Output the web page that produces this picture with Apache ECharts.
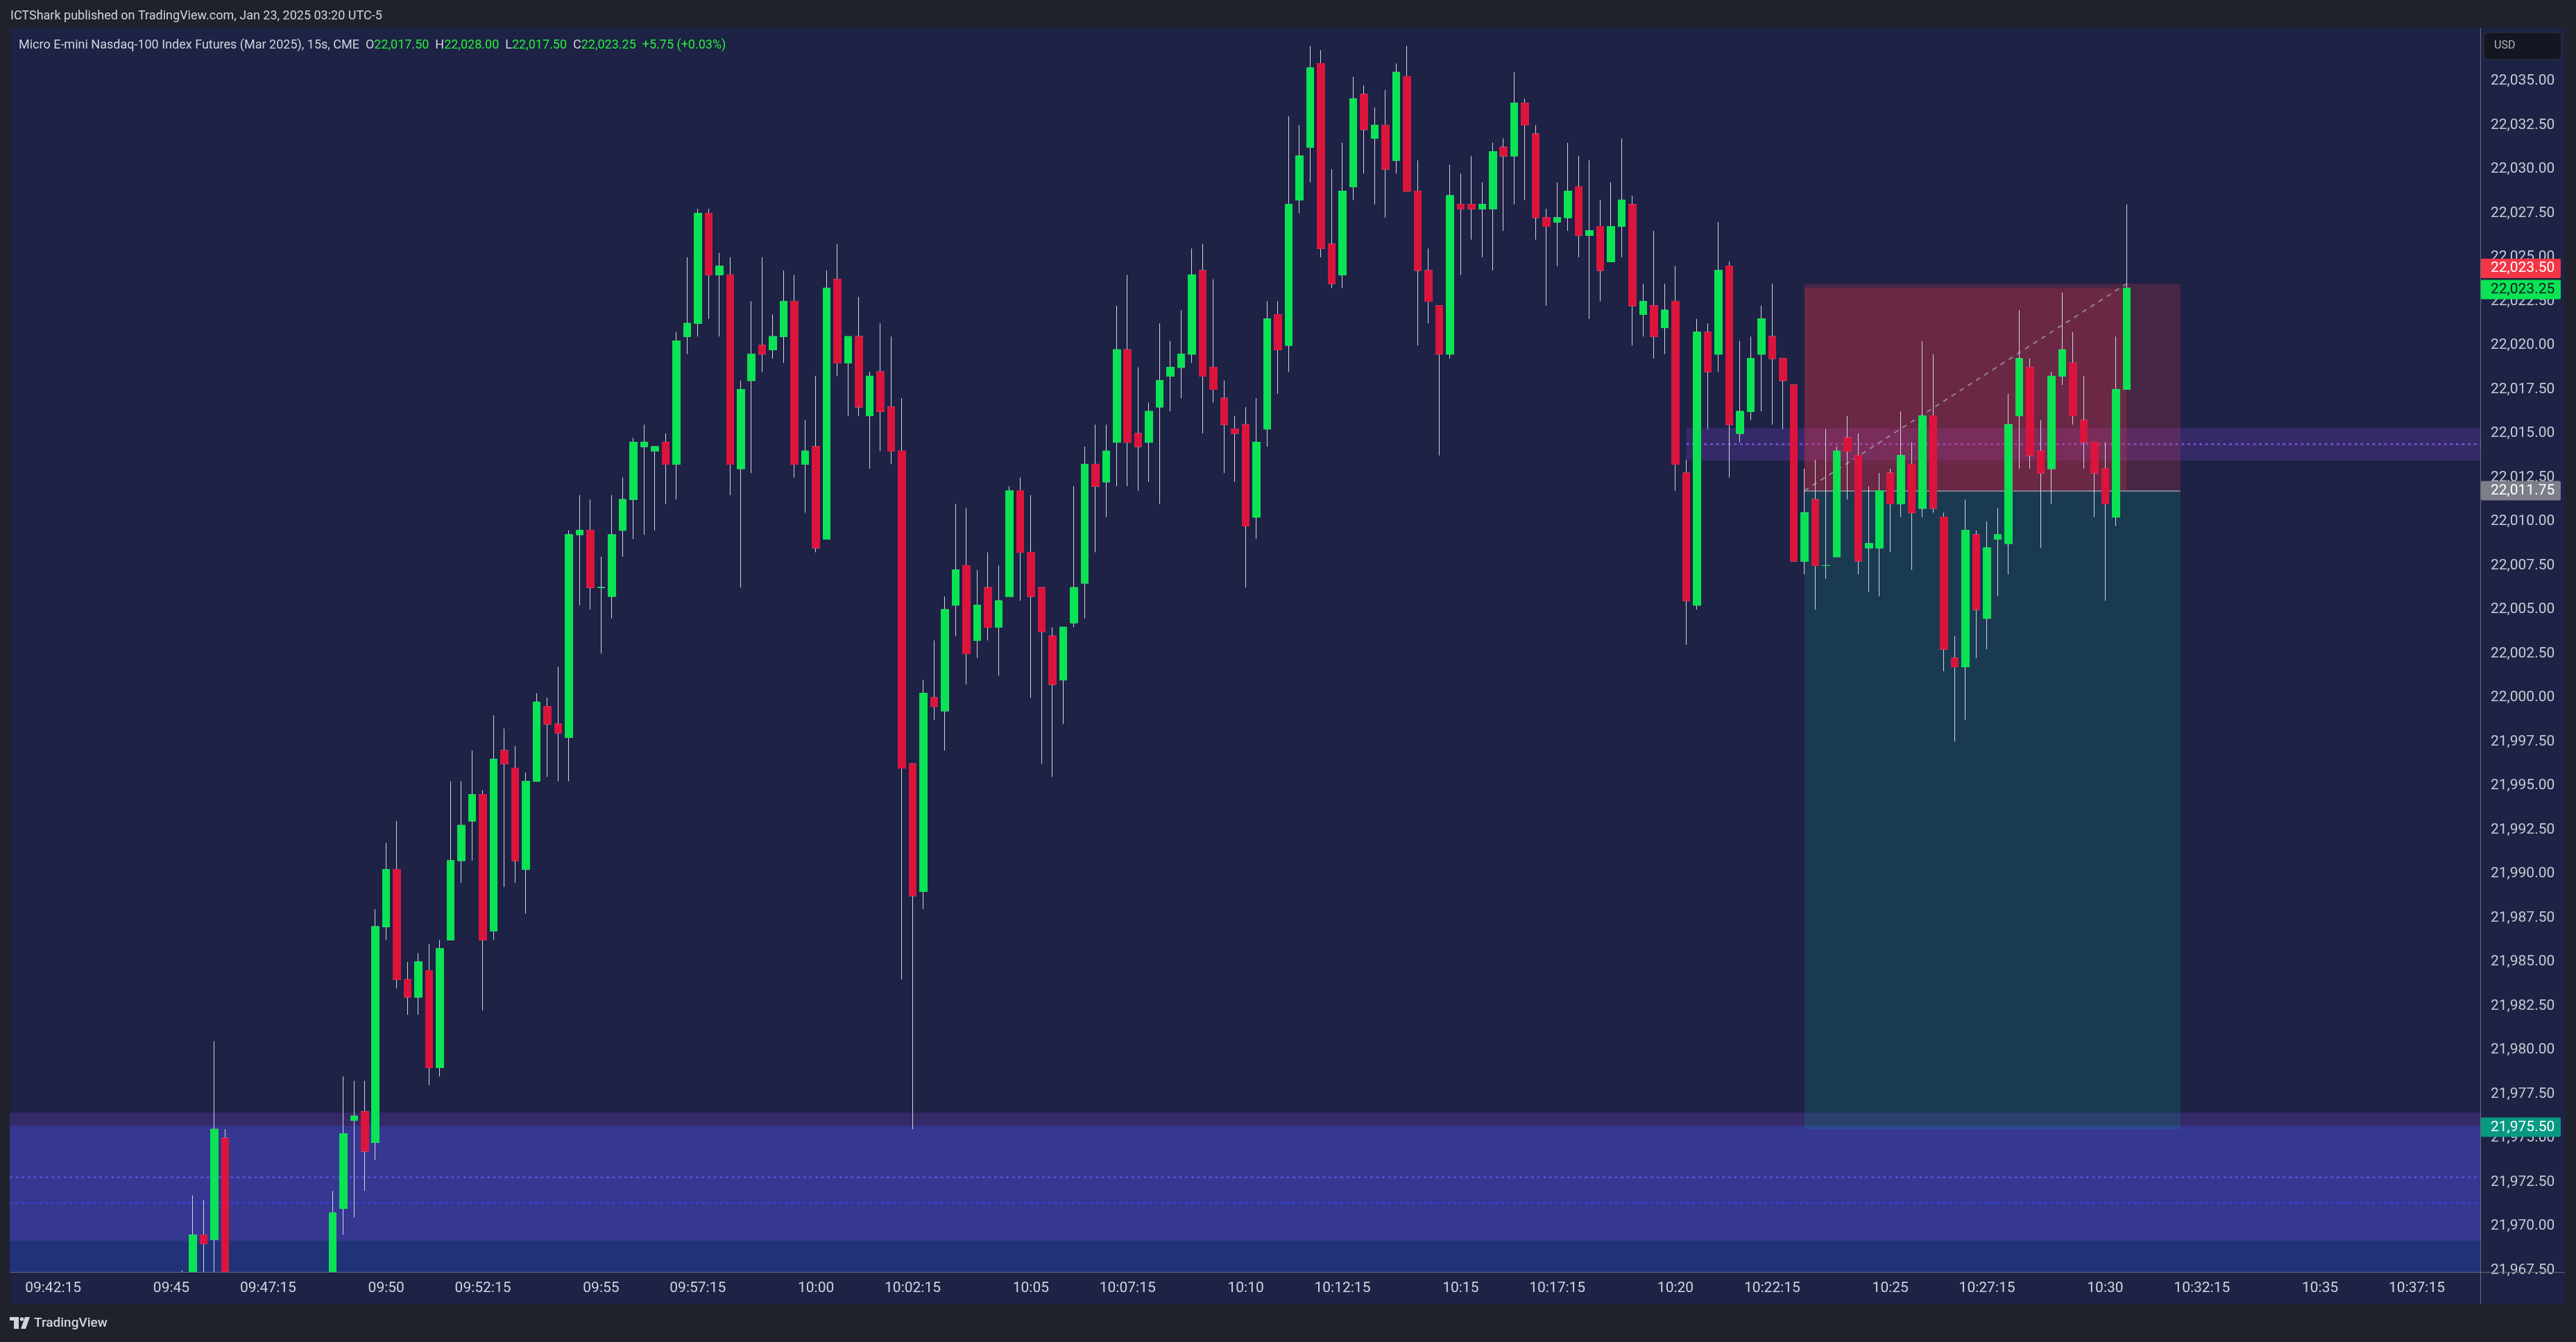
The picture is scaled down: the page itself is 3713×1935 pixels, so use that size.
<!DOCTYPE html>
<html><head><meta charset="utf-8">
<script src="https://cdn.jsdelivr.net/npm/echarts@6/dist/echarts.min.js"></script>
<style>html,body{margin:0;padding:0;background:#1f222b;overflow:hidden}#c{width:3713px;height:1935px}</style>
</head><body><div id="c"></div>
<script>
// ---------- DATA ----------
const times = [
'09:45:15','09:45:30','09:45:45','09:46:00','09:46:15',
'09:48:45',
'09:49:00','09:49:15','09:49:30','09:49:45','09:50:00','09:50:15','09:50:30','09:50:45',
'09:51:00','09:51:15','09:51:30','09:51:45','09:52:00','09:52:15','09:52:30','09:52:45',
'09:53:00','09:53:15','09:53:30','09:53:45','09:54:00','09:54:15','09:54:30','09:54:45',
'09:55:00','09:55:15','09:55:30','09:55:45','09:56:00','09:56:15','09:56:30','09:56:45',
'09:57:00','09:57:15','09:57:30','09:57:45','09:58:00','09:58:15','09:58:30','09:58:45',
'09:59:00','09:59:15','09:59:30','09:59:45','10:00:00','10:00:15','10:00:30','10:00:45',
'10:01:00','10:01:15','10:01:30','10:01:45','10:02:00','10:02:15','10:02:30','10:02:45',
'10:03:00','10:03:15','10:03:30','10:03:45','10:04:00','10:04:15','10:04:30','10:04:45',
'10:05:00','10:05:15','10:05:30','10:05:45','10:06:00','10:06:15','10:06:30','10:06:45',
'10:07:00','10:07:15','10:07:30','10:07:45','10:08:00','10:08:15','10:08:30','10:08:45',
'10:09:00','10:09:15','10:09:30','10:09:45','10:10:00','10:10:15','10:10:30','10:10:45',
'10:11:00','10:11:15','10:11:30','10:11:45','10:12:00','10:12:15','10:12:30','10:12:45',
'10:13:00','10:13:15','10:13:30','10:13:45','10:14:00','10:14:15','10:14:30','10:14:45',
'10:15:00','10:15:15','10:15:30','10:15:45','10:16:00','10:16:15','10:16:30','10:16:45',
'10:17:00','10:17:15','10:17:30','10:17:45','10:18:00','10:18:15','10:18:30','10:18:45',
'10:19:00','10:19:15','10:19:30','10:19:45','10:20:00','10:20:15','10:20:30','10:20:45',
'10:21:00','10:21:15','10:21:30','10:21:45','10:22:00','10:22:15','10:22:30','10:22:45',
'10:23:00','10:23:15','10:23:30','10:23:45','10:24:00','10:24:15','10:24:30','10:24:45',
'10:25:00','10:25:15','10:25:30','10:25:45','10:26:00','10:26:15','10:26:30','10:26:45',
'10:27:00','10:27:15','10:27:30','10:27:45','10:28:00','10:28:15','10:28:30','10:28:45',
'10:29:00','10:29:15','10:29:30','10:29:45','10:30:00','10:30:15','10:30:30'
];
const opens = [
21965.5,21966,21969.5,21969.25,21975,
21965,
21971,21976,21976.5,21974.75,21987,21990.25,21984,21983,
21984.5,21979,21986.25,21990.75,21993,21994.5,21986.75,21997,
21996,21990.25,21995.25,21999.5,21998.5,21997.75,22009.25,22009.5,
22006.25,22005.75,22009.5,22011.25,22014.25,22014,22014.5,22013.25,
22020.5,22021.25,22027.5,22024,22024,22013,22018,22020,
22019.75,22020.5,22022.5,22013.25,22014.25,22009,22023.75,22019,
22020.5,22016,22018.5,22016.5,22014,21996.25,21989,22000,
21999.25,22005.25,22007.5,22003.25,22006.25,22004,22005.75,22011.75,
22008.25,22006.25,22003.5,22001,22004.25,22006.5,22013.25,22012.25,
22014.5,22019.75,22015,22014.5,22016.5,22018.25,22018.75,22019.5,
22024.25,22018.75,22017,22015.25,22015.5,22010.25,22015.25,22021.75,
22020,22028.25,22031.25,22036,22025.75,22024,22029,22034.25,
22031.75,22032.5,22030.5,22035.25,22028.75,22024.25,22022.25,22019.5,
22028,22028,22027.75,22027.75,22031.25,22030.75,22033.75,22032,
22027.25,22027,22027.25,22029,22026.25,22026.75,22024.75,22026.75,
22028,22021.75,22022.25,22021,22022.5,22012.75,22005.25,22020.75,
22019.5,22024.5,22015,22016.25,22019.5,22020.5,22019.25,22017.75,
22007.75,22011.25,22007.5,22008,22014.75,22013.75,22008.5,22008.5,
22012.75,22011,22013.25,22010.75,22016,22010.25,22002.25,22001.75,
22009.25,22004.5,22009,22008.75,22016,22018.75,22014,22013,
22018.25,22019,22015.75,22014.5,22013,22010.25,22017.5
];
const highs = [
21967.5,21971.75,21971.5,21980.5,21975.5,
21972,
21978.5,21978.25,21978.25,21988,21991.75,21993,21985,21985.5,
21986,21986.25,21995.25,21995.25,21997,21994.75,21999,21998.25,
21997.25,21995.75,22000.25,22000,22001.75,22009.5,22011.5,22011.25,
22008,22011.5,22012.5,22014.75,22015.5,22014.25,22015,22020.75,
22025,22027.75,22027.75,22025.25,22025,22018,22022.5,22025,
22021.75,22024.25,22024,22015.75,22018.25,22024.25,22025.75,22020.5,
22022.75,22018.5,22021.25,22020.5,22017,21996.25,22001,22003.25,
22005.75,22011,22010.75,22007.25,22008.25,22007.5,22012,22012.5,
22011.5,22006.25,22004,22004,22012,22014.25,22015.5,22015.5,
22022.25,22024,22018.75,22016.75,22021.25,22020.25,22022,22025.5,
22025.75,22023.75,22018,22016,22016.5,22017,22022.5,22022.5,
22033,22032.5,22037,22036.75,22030,22031.5,22035.25,22034.75,
22033.5,22034.5,22036,22037,22030.5,22025.5,22022.25,22030.25,
22029.75,22030.75,22029.25,22031.5,22031.75,22035.5,22034,22032.5,
22027.75,22029.25,22031.5,22030.75,22030.5,22028.25,22029.25,22031.75,
22028.5,22023.5,22026.5,22023.5,22024.5,22013.5,22021.5,22021.25,
22027,22024.75,22020.25,22020.5,22022.25,22023.5,22019.25,22017.75,
22013,22013.5,22015.25,22014.25,22016,22015,22012,22012.75,
22013,22016.25,22014.5,22020.25,22019.5,22010.5,22003.5,22011.25,
22009.5,22010,22010.75,22017.25,22022,22019.25,22015.75,22018.5,
22023,22020.75,22018.25,22014.5,22014.5,22020.5,22028
];
const lows = [
21964,21965,21966,21966.25,21963,
21964,
21969.5,21970.5,21972,21973.75,21986.25,21983.5,21982,21982,
21978,21978.5,21986.25,21989.5,21990.75,21982.25,21986.25,21989.25,
21989.5,21987.75,21995.25,21995.5,21995.25,21995.25,22005.25,22005,
22002.5,22004.5,22008,22009,22009.25,22009.5,22011,22011.25,
22019.5,22020.5,22021.5,22020.5,22011.5,22006.25,22012.75,22018.5,
22019.25,22019,22012.5,22010.5,22008.25,22009,22018.25,22016,
22016,22013,22014,22013.25,21984,21975.5,21988,21998.75,
21997,22003.5,22000.75,22002.25,22003.25,22001.25,22005.75,22005.5,
22000,21996.25,21995.5,21998.5,22004,22004.5,22008.25,22010.25,
22012,22012,22011.75,22012.25,22011,22016.25,22017,22019,
22015,22016.75,22012.75,22012.25,22006.25,22009,22014.25,22017.25,
22018.5,22027.5,22029.25,22025,22023.25,22023.25,22028.25,22029.75,
22028,22027.25,22029.75,22028.75,22020,22021.25,22013.75,22019.25,
22024,22026,22025,22024.25,22026.5,22028,22028.25,22026,
22022.25,22024.5,22026.5,22025,22021.5,22022.5,22024.75,22025,
22020,22020.5,22019.25,22019.5,22011.75,22003,22005,22015.25,
22018.5,22012.5,22014.5,22015.75,22016.25,22015.5,22015.25,22007.75,
22007,22005,22006.75,22008,22011.25,22007,22006,22005.75,
22008.25,22010.25,22007.25,22010.25,22010.5,22001.5,21997.5,21998.75,
22002.25,22002.75,22005.75,22007,22013,22013,22008.5,22011,
22017.75,22015.5,22013,22010.25,22005.5,22009.75,22017.5
];
const closes = [
21966.5,21969.5,21969,21975.5,21964,
21970.75,
21975.25,21976.25,21974.25,21987,21990.25,21984,21983,21985,
21979,21985.75,21990.75,21992.75,21994.5,21986.25,21996.5,21996.25,
21990.75,21995.25,21999.75,21998.5,21998,22009.25,22009.5,22006.25,
22006.25,22009.25,22011.25,22014.5,22014.5,22014.25,22013.25,22020.25,
22021.25,22027.5,22024,22024.5,22013.25,22017.5,22019.5,22019.5,
22020.5,22022.5,22013.25,22014,22008.5,22023.25,22019,22020.5,
22016.5,22018.25,22016.25,22014,21996,21988.75,22000.25,21999.5,
22005,22007.25,22002.5,22005.25,22004,22005.5,22011.75,22008.25,
22005.75,22003.75,22000.75,22004,22006.25,22013.25,22012,22014,
22019.75,22014.5,22014.25,22016.25,22018,22018.75,22019.5,22024,
22018.25,22017.5,22015.5,22015,22009.75,22014.5,22021.5,22019.75,
22028,22030.75,22035.75,22025.5,22023.5,22028.75,22034,22032.25,
22032.5,22030,22035.5,22028.75,22024.25,22022.5,22019.5,22028.5,
22027.75,22027.75,22028,22031,22030.75,22033.75,22032.5,22027.25,
22026.75,22027.25,22028.75,22026.25,22026.5,22024.25,22026.75,22028.25,
22022.25,22022.5,22020.5,22022,22013.25,22005.5,22020.75,22018.5,
22024.25,22015.5,22016.25,22019.25,22021.5,22019.25,22018,22007.75,
22010.5,22007.5,22007.5,22014,22014,22007.75,22008.75,22011.75,
22011,22013.75,22010.5,22016,22010.75,22002.75,22001.75,22009.5,
22005,22008.5,22009.25,22015.5,22019.25,22013.75,22012.75,22018.25,
22019.75,22016,22014.5,22012.75,22011,22017.5,22023.25
];
// axis ticks / labels
const timeTickLabels = ['09:42:15','09:45','09:47:15','09:50','09:52:15','09:55','09:57:15','10:00','10:02:15','10:05','10:07:15','10:10','10:12:15','10:15','10:17:15','10:20','10:22:15','10:25','10:27:15','10:30','10:32:15','10:35','10:37:15'];
const priceTicks = [21967.5,21970,21972.5,21975,21977.5,21980,21982.5,21985,21987.5,21990,21992.5,21995,21997.5,22000,22002.5,22005,22007.5,22010,22012.5,22015,22017.5,22020,22022.5,22025,22027.5,22030,22032.5,22035];
// visible window
const viewTime = ['09:41:14.3','10:38:43.6'];
const viewPrice = [21967.4, 22038.03];
// zones (price from, price to, midline)
const lowerBlueZone = [21966.95, 21975.7, 21971.33];
const lowerPurpleZone = [21969.15, 21976.45, 21972.8];
const upperPurpleZone = [22013.45, 22015.3, 22014.39];
const upperZoneStart = '10:20:15';
// short position tool
const positionTimes = ['10:23:00','10:31:45'];
const positionLevels = {stop: 22023.5, entry: 22011.75, target: 21975.5};

// ---------- HELPERS ----------
const toSec = t => { const p = t.split(':').map(Number); return p[0]*3600 + p[1]*60 + (p[2] || 0); };
const pad = n => String(n).padStart(2,'0');
const fmtTime = v => { const h = Math.floor(v/3600), m = Math.floor((v%3600)/60), s = Math.round(v%60); return pad(h)+':'+pad(m)+(s ? ':'+pad(s) : ''); };
const fmtPrice = v => v.toLocaleString('en-US',{minimumFractionDigits:2, maximumFractionDigits:2});

const UP = '#0ae354', DOWN = '#dc143c', WICK = '#d5d6de';
const NAVY = '#1e2245';
const FONT = 'Roboto, "Noto Sans", sans-serif';
const xMin = toSec(viewTime[0]), xMax = toSec(viewTime[1]);
const n = times.length;
const lastT = toSec(times[n-1]);

const wickData = times.map((t,i) => [toSec(t), opens[i], closes[i], lows[i], highs[i]]);
const bodyData = times.map((t,i) => [toSec(t), opens[i], closes[i], Math.min(opens[i],closes[i]), Math.max(opens[i],closes[i])]);

const chart = echarts.init(document.getElementById('c'), null, {width:3713, height:1935});

const p0 = toSec(positionTimes[0]), p1 = toSec(positionTimes[1]);
const uz0 = toSec(upperZoneStart);

chart.setOption({
  animation: false,
  backgroundColor: NAVY,
  grid: {left: 14, right: 138, top: 40, bottom: 101, containLabel: false, outerBoundsMode: 'none'},
  xAxis: {
    type: 'value', min: xMin, max: xMax, z: 100,
    axisLine: {show: false}, axisTick: {show: false}, splitLine: {show: false},
    axisLabel: {customValues: timeTickLabels.map(toSec), formatter: fmtTime, color: '#d1d4dc', fontSize: 21, fontFamily: FONT, margin: 13}
  },
  yAxis: {
    type: 'value', position: 'right', min: viewPrice[0], max: viewPrice[1],
    axisLine: {show: false}, axisTick: {show: false}, splitLine: {show: false},
    axisLabel: {customValues: priceTicks, formatter: fmtPrice, color: '#c8cbd4', fontSize: 21, fontFamily: FONT, margin: 15, align: 'left'}
  },
  series: [
    { // fair value gap zones
      type: 'line', data: [], silent: true, z: 1,
      markArea: {
        silent: true, z: 1,
        data: [
          [{yAxis: lowerBlueZone[0], itemStyle: {color: 'rgba(41,98,255,0.28)'}}, {yAxis: lowerBlueZone[1]}],
          [{yAxis: lowerPurpleZone[0], itemStyle: {color: 'rgba(145,74,244,0.2)'}}, {yAxis: lowerPurpleZone[1]}],
          [{coord: [uz0, upperPurpleZone[0]], itemStyle: {color: 'rgba(145,74,244,0.2)'}}, {coord: [xMax, upperPurpleZone[1]]}]
        ]
      },
      markLine: {
        silent: true, z: 2, symbol: ['none','none'], label: {show: false},
        data: [
          {yAxis: lowerPurpleZone[2], lineStyle: {color: '#5f4fdc', width: 2.5, type: [4,4.6]}},
          {yAxis: lowerBlueZone[2], lineStyle: {color: '#2d48d6', width: 2.5, type: [4,4.6]}},
          [{coord: [uz0, upperPurpleZone[2]], lineStyle: {color: '#7a52d6', width: 2.5, type: [4,4.6]}}, {coord: [xMax, upperPurpleZone[2]]}]
        ]
      }
    },
    { // position tool
      type: 'line', data: [], silent: true, z: 3,
      markArea: {
        silent: true, z: 3,
        data: [
          [{coord: [p0, positionLevels.entry], itemStyle: {color: 'rgba(8,153,129,0.2)'}}, {coord: [p1, positionLevels.target]}],
          [{coord: [p0, positionLevels.stop], itemStyle: {color: 'rgba(242,54,69,0.19)'}}, {coord: [p1, positionLevels.entry]}],
          [{coord: [p0, closes[n-1]], itemStyle: {color: 'rgba(242,54,69,0.21)'}}, {coord: [lastT, positionLevels.entry]}]
        ]
      },
      markLine: {
        silent: true, z: 4, symbol: ['none','none'], label: {show: false},
        data: [
          [{coord: [p0, positionLevels.entry], lineStyle: {color: '#7c7f8b', width: 2, type: 'solid'}}, {coord: [p1, positionLevels.entry]}],
          [{coord: [p0, positionLevels.entry], lineStyle: {color: 'rgba(160,163,175,0.75)', width: 2, type: [7,7]}}, {coord: [lastT, positionLevels.stop]}]
        ]
      }
    },
    { // wicks
      type: 'candlestick', z: 5, clip: true, barWidth: 11, silent: true,
      encode: {x: 0, y: [1,2,3,4]},
      data: wickData,
      itemStyle: {color: WICK, color0: WICK, borderColor: WICK, borderColor0: WICK, borderColorDoji: WICK, borderWidth: 1}
    },
    { // bodies
      type: 'candlestick', z: 6, clip: true, barWidth: 11, silent: true,
      encode: {x: 0, y: [1,2,3,4]},
      data: bodyData,
      itemStyle: {color: UP, color0: DOWN, borderColor: UP, borderColor0: DOWN, borderColorDoji: UP, borderWidth: 1}
    }
  ]
});

// ---------- CHROME / LABELS ----------
const py = v => chart.convertToPixel({yAxisIndex: 0}, v);
const lastO = opens[n-1], lastH = highs[n-1], lastL = lows[n-1], lastC = closes[n-1];
const chg = lastC - closes[n-2];
const chgTxt = (chg >= 0 ? '+' : '') + chg.toFixed(2) + ' (' + (chg >= 0 ? '+' : '') + (chg / closes[n-2] * 100).toFixed(2) + '%)';

const priceTags = [
  {v: positionLevels.stop, bg: '#f23645', fg: '#ffffff', dy: -22},
  {v: lastC, bg: '#0ae354', fg: '#131722', dy: 2},
  {v: positionLevels.entry, bg: '#7c7e89', fg: '#ffffff', dy: 0},
  {v: positionLevels.target, bg: '#089981', fg: '#ffffff', dy: -3}
];
const g = [];
const OUT = '#1f222b';
// time-axis strip (hides the parts of candles below the price window)
g.push({type: 'rect', shape: {x: 14, y: 1835, width: 3561, height: 46}, style: {fill: NAVY}, z: 50, silent: true});
g.push({type: 'rect', shape: {x: 0, y: 0, width: 3713, height: 40}, style: {fill: OUT}, z: 50, silent: true});
g.push({type: 'rect', shape: {x: 0, y: 0, width: 14, height: 1935}, style: {fill: OUT}, z: 50, silent: true});
g.push({type: 'rect', shape: {x: 0, y: 1881, width: 3713, height: 54}, style: {fill: OUT}, z: 50, silent: true});
g.push({type: 'rect', shape: {x: 3697, y: 0, width: 16, height: 1935}, style: {fill: OUT}, z: 50, silent: true});
g.push({type: 'line', shape: {x1: 3575.5, y1: 40, x2: 3575.5, y2: 1881}, style: {stroke: '#6a6d78', lineWidth: 1}, z: 60, silent: true});
g.push({type: 'line', shape: {x1: 14, y1: 1834.5, x2: 3697, y2: 1834.5}, style: {stroke: '#6a6d78', lineWidth: 1}, z: 60, silent: true});
priceTags.forEach(t => {
  const y = py(t.v) + t.dy;
  g.push({type: 'rect', shape: {x: 3576, y: y - 14, width: 115, height: 28, r: 2}, style: {fill: t.bg}, z: 70, silent: true});
  g.push({type: 'text', x: 3590, y: y, style: {text: fmtPrice(t.v), fill: t.fg, font: '21px ' + FONT, verticalAlign: 'middle', align: 'left'}, z: 71, silent: true});
});
// USD box
g.push({type: 'rect', shape: {x: 3580, y: 47, width: 112, height: 39, r: 7}, style: {fill: '#141722', stroke: '#30343f', lineWidth: 1}, z: 70, silent: true});
g.push({type: 'text', x: 3595, y: 66, style: {text: 'USD', fill: '#b2b5be', font: '16px ' + FONT, verticalAlign: 'middle'}, z: 71, silent: true});
// header lines
g.push({type: 'text', x: 15, y: 23, style: {text: 'ICTShark published on TradingView.com, Jan 23, 2025 03:20 UTC-5', fill: '#d1d4dc', font: '18px ' + FONT, verticalAlign: 'middle'}, z: 80, silent: true});
g.push({type: 'text', x: 27, y: 65, style: {
  text: '{w|Micro E-mini Nasdaq-100 Index Futures (Mar 2025), 15s, CME}  {w|O}{g|' + fmtPrice(lastO) + '}  {w|H}{g|' + fmtPrice(lastH) + '}  {w|L}{g|' + fmtPrice(lastL) + '}  {w|C}{g|' + fmtPrice(lastC) + '}  {g|' + chgTxt + '}',
  font: '18px ' + FONT, fill: '#d1d4dc', verticalAlign: 'middle',
  rich: {w: {fill: '#d1d4dc', font: '18px ' + FONT}, g: {fill: '#26f03a', font: '18px ' + FONT}}
}, z: 80, silent: true});
// TradingView logo
g.push({type: 'rect', shape: {x: 14, y: 1899, width: 13, height: 5}, style: {fill: '#d1d4dc'}, z: 80, silent: true});
g.push({type: 'rect', shape: {x: 20, y: 1899, width: 7, height: 17}, style: {fill: '#d1d4dc'}, z: 80, silent: true});
g.push({type: 'circle', shape: {cx: 31.5, cy: 1902, r: 2.8}, style: {fill: '#d1d4dc'}, z: 80, silent: true});
g.push({type: 'polygon', shape: {points: [[36, 1899], [43, 1899], [37, 1916], [30, 1916]]}, style: {fill: '#d1d4dc'}, z: 80, silent: true});
g.push({type: 'text', x: 49, y: 1908, style: {text: 'TradingView', fill: '#d1d4dc', font: '500 19px ' + FONT, verticalAlign: 'middle'}, z: 80, silent: true});

chart.setOption({graphic: {elements: g}});
</script>
</body></html>
